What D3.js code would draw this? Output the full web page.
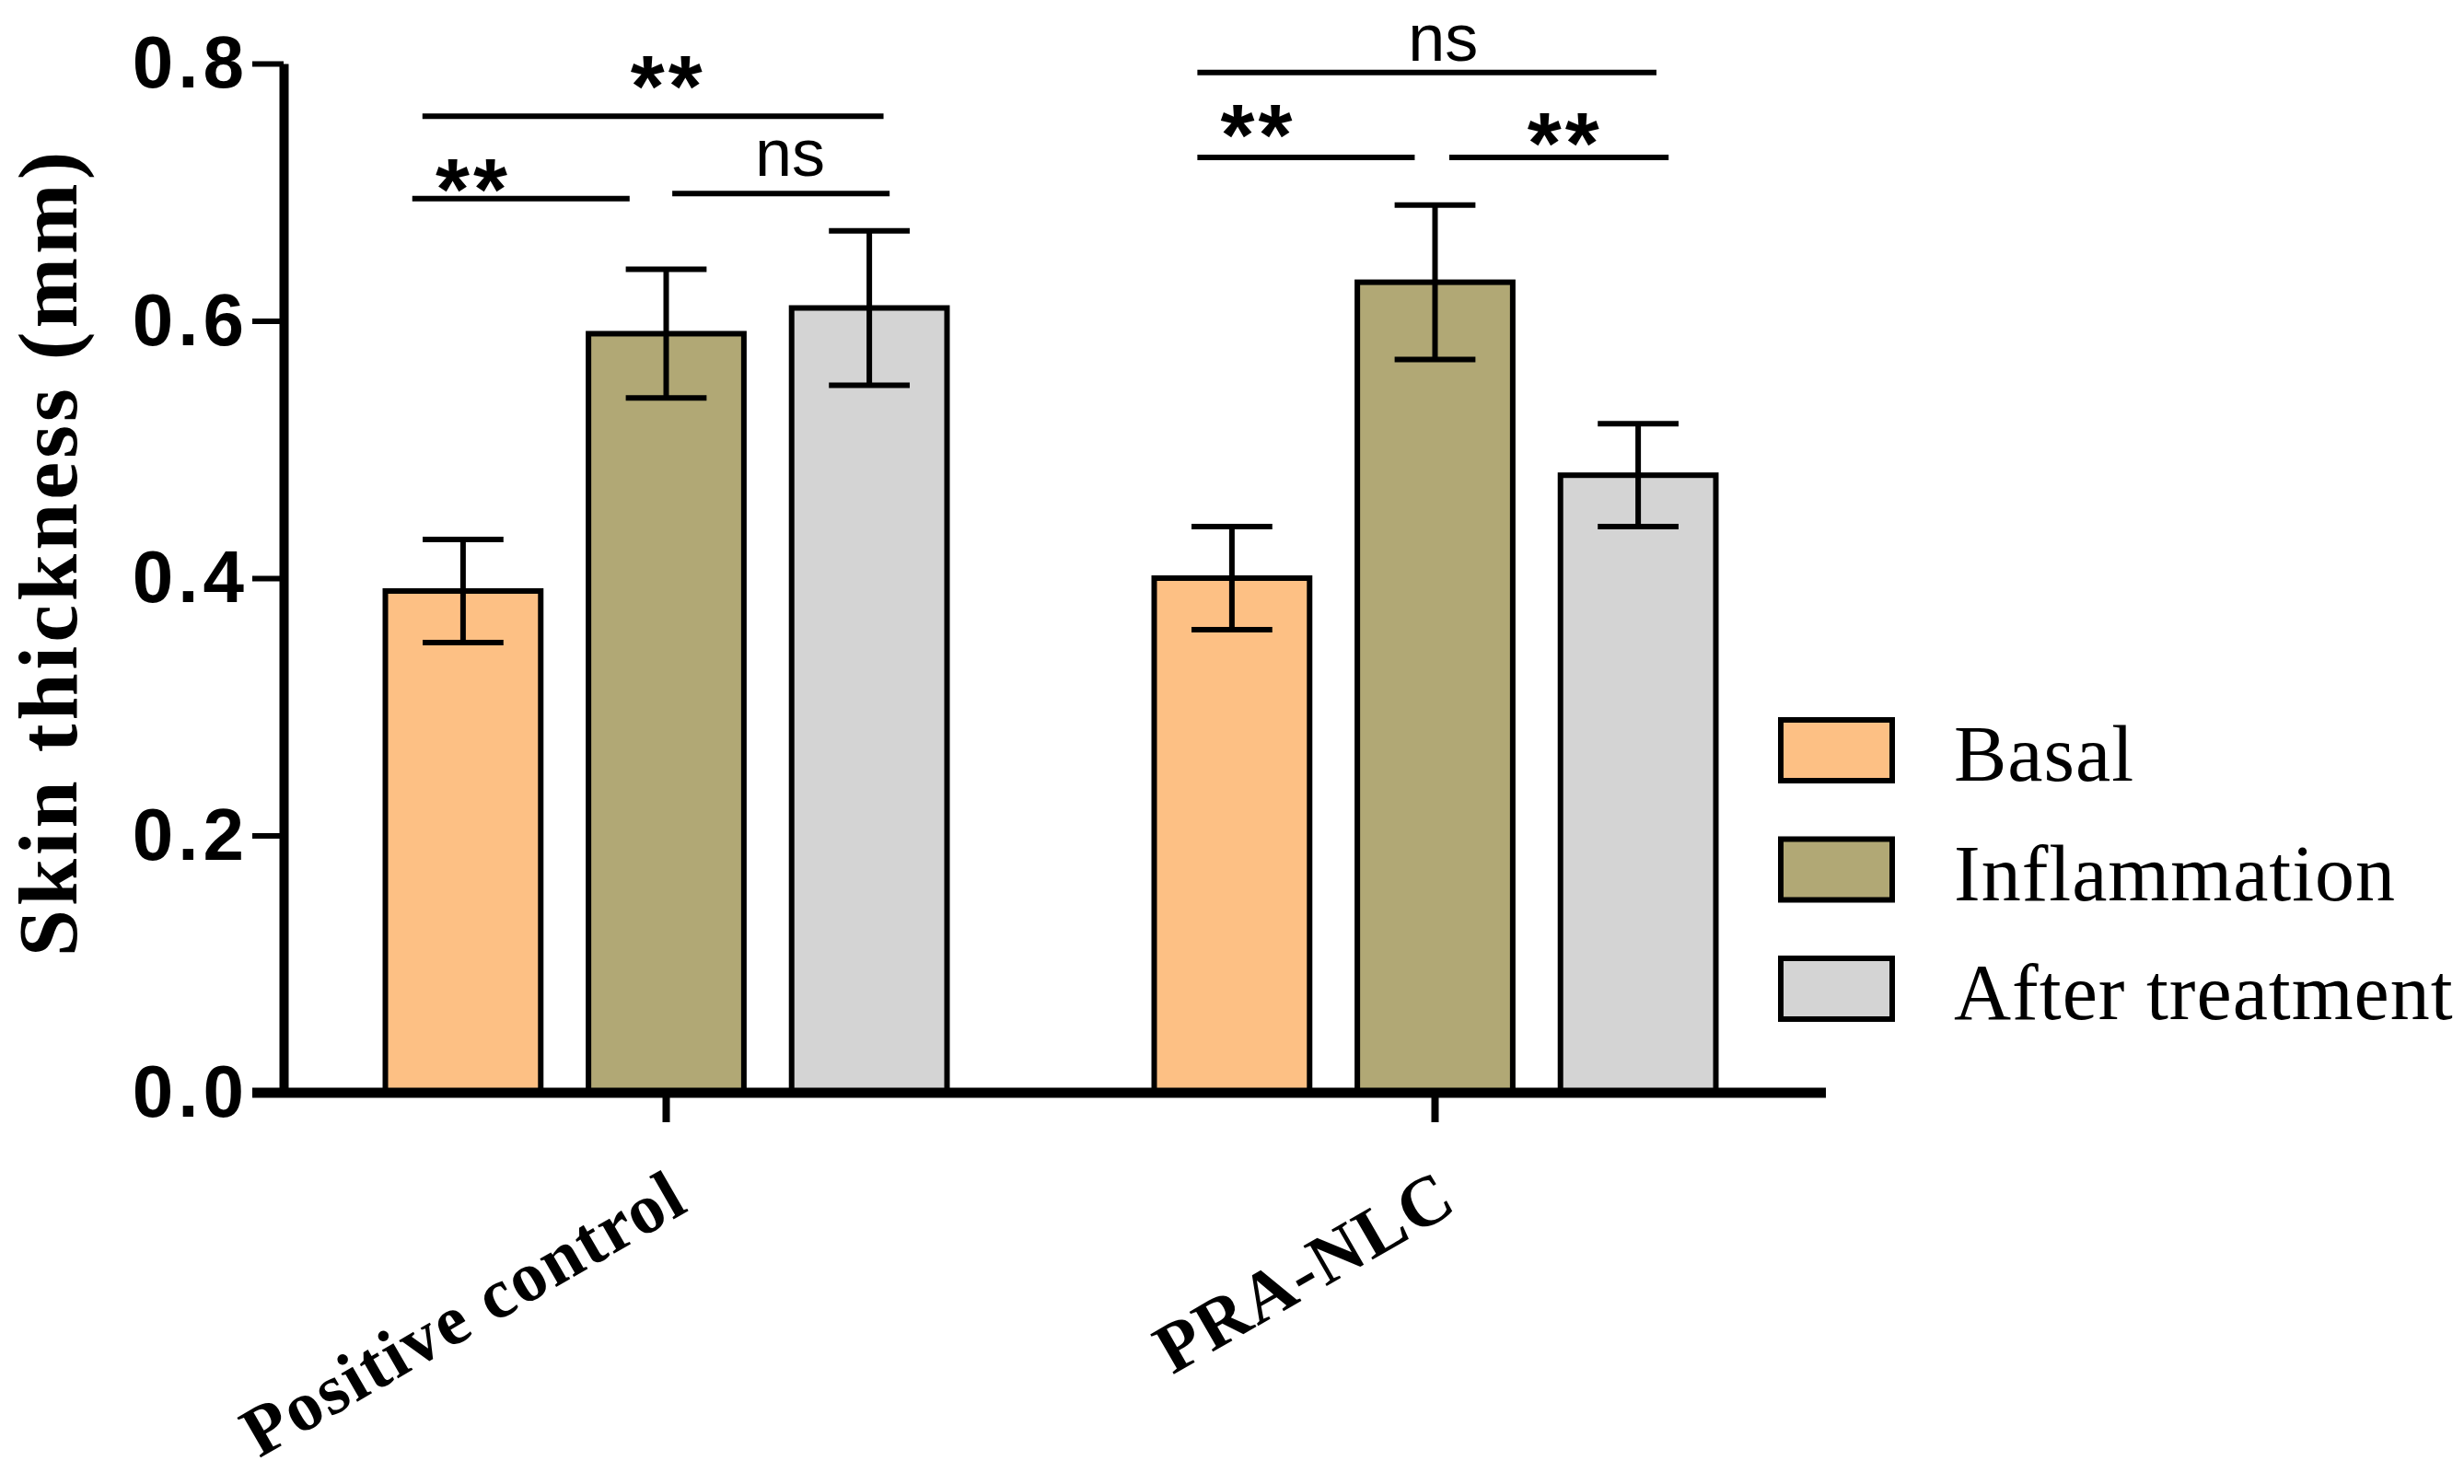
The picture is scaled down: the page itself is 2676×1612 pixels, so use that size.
<!DOCTYPE html>
<html>
<head>
<meta charset="utf-8">
<script src="https://cdn.jsdelivr.net/npm/d3@7"></script>
<style>
  body { margin: 0; background: #fff; }
  svg { display: block; background: #fff; }
</style>
</head>
<body>
<svg id="chart"></svg>
<script>
const groups = ["Positive control", "PRA-NLC"];
const series = ["Basal", "Inflammation", "After treatment"];
const means = [
  [0.39, 0.59, 0.61],
  [0.40, 0.63, 0.48],
];
const errors = [
  [0.04, 0.05, 0.06],
  [0.04, 0.06, 0.04],
];
const yTicks = [0, 0.2, 0.4, 0.6, 0.8];

// significance brackets, x in series units inside the group, y in mm
const brackets = [
  { group: 0, from: -0.2, to: 2.07, level: 0.759, label: "**", at: 1.01, labelLevel: 0.759 },
  { group: 0, from: -0.25, to: 0.82, level: 0.695, label: "**", at: 0.05, labelLevel: 0.679 },
  { group: 0, from: 1.03, to: 2.1, level: 0.699, label: "ns", at: 1.61, labelLevel: 0.713 },
  { group: 1, from: -0.17, to: 2.09, level: 0.793, label: "ns", at: 1.04, labelLevel: 0.802 },
  { group: 1, from: -0.17, to: 0.9, level: 0.727, label: "**", at: 0.13, labelLevel: 0.721 },
  { group: 1, from: 1.07, to: 2.15, level: 0.727, label: "**", at: 1.64, labelLevel: 0.715 },
];

const seriesColors = {
  Basal: "#fdc084",
  Inflammation: "#b1a875",
  "After treatment": "#d4d4d4",
};

const svgWidth = 2676;
const svgHeight = 1612;
const axisX = 308;
const axisY = 1187;
const plotTop = 69;
const plotRight = 1983;
const yTickLen = 34;

const svg = d3
  .select("#chart")
  .attr("width", svgWidth)
  .attr("height", svgHeight);

const x0 = d3
  .scaleBand()
  .domain(groups)
  .range([306, 1976])
  .paddingInner(0)
  .paddingOuter(0);

const x1 = d3
  .scaleBand()
  .domain(series)
  .range([0, x0.bandwidth()])
  .paddingInner(0.235)
  .paddingOuter(0.51);

const y = d3.scaleLinear().domain([0, 0.8]).range([axisY, plotTop]);

const rows = [];
groups.forEach((g, gi) => {
  series.forEach((s, si) => {
    rows.push({ group: g, gi, series: s, si, mean: means[gi][si], err: errors[gi][si] });
  });
});

const barCenter = (d) => x0(d.group) + x1(d.series) + x1.bandwidth() / 2;

// bars
svg
  .append("g")
  .selectAll("rect")
  .data(rows)
  .join("rect")
  .attr("x", (d) => x0(d.group) + x1(d.series))
  .attr("y", (d) => y(d.mean))
  .attr("width", x1.bandwidth())
  .attr("height", (d) => y(0) - y(d.mean))
  .attr("fill", (d) => seriesColors[d.series])
  .attr("stroke", "#000")
  .attr("stroke-width", 6);

// error bars
const capHalf = x1.bandwidth() * 0.26;
const eb = svg.append("g").attr("stroke", "#000").attr("stroke-width", 6);
eb.selectAll(".stem")
  .data(rows)
  .join("line")
  .attr("x1", barCenter)
  .attr("x2", barCenter)
  .attr("y1", (d) => y(d.mean + d.err))
  .attr("y2", (d) => y(d.mean - d.err));
eb.selectAll(".capTop")
  .data(rows)
  .join("line")
  .attr("x1", (d) => barCenter(d) - capHalf)
  .attr("x2", (d) => barCenter(d) + capHalf)
  .attr("y1", (d) => y(d.mean + d.err))
  .attr("y2", (d) => y(d.mean + d.err));
eb.selectAll(".capBot")
  .data(rows)
  .join("line")
  .attr("x1", (d) => barCenter(d) - capHalf)
  .attr("x2", (d) => barCenter(d) + capHalf)
  .attr("y1", (d) => y(d.mean - d.err))
  .attr("y2", (d) => y(d.mean - d.err));

// y axis
const yAxis = svg
  .append("g")
  .attr("transform", `translate(${axisX}, 0)`)
  .call(
    d3
      .axisLeft(y)
      .tickValues(yTicks)
      .tickFormat(d3.format(".1f"))
      .tickSize(yTickLen)
      .tickSizeOuter(0)
      .tickPadding(4)
  );
yAxis.select(".domain").attr("stroke-width", 10);
yAxis.selectAll(".tick line").attr("stroke-width", 6);
yAxis
  .selectAll(".tick text")
  .attr("font-family", "'Liberation Sans', Arial, sans-serif")
  .attr("font-weight", "bold")
  .attr("font-size", 80)
  .attr("letter-spacing", 5)
  .attr("fill", "#000");

// x axis
const xAxis = svg
  .append("g")
  .attr("transform", `translate(0, ${axisY})`)
  .call(d3.axisBottom(x0).tickSize(32).tickSizeOuter(0));
xAxis
  .select(".domain")
  .attr("d", `M${axisX - yTickLen},0H${plotRight}`)
  .attr("stroke-width", 11);
xAxis.selectAll(".tick line").attr("stroke-width", 8);
xAxis
  .selectAll(".tick text")
  .attr("font-family", "'Liberation Serif', 'Times New Roman', serif")
  .attr("font-weight", "bold")
  .attr("font-size", 77)
  .attr("letter-spacing", 2)
  .attr("fill", "#000")
  .attr("text-anchor", "end")
  .attr("dominant-baseline", "central")
  .attr("x", 14)
  .attr("y", 104)
  .attr("dy", null)
  .attr("transform", "rotate(-30, 14, 104)");

// y axis title
svg
  .append("text")
  .attr("transform", `translate(83, 600) rotate(-90)`)
  .attr("text-anchor", "middle")
  .attr("font-family", "'Liberation Serif', 'Times New Roman', serif")
  .attr("font-weight", "bold")
  .attr("font-size", 92)
  .attr("letter-spacing", 4)
  .text("Skin thickness (mm)");

// significance brackets
const bg = svg.append("g");
brackets.forEach((b) => {
  const g = groups[b.group];
  const pos = d3
    .scaleLinear()
    .domain([0, series.length - 1])
    .range([
      x0(g) + x1(series[0]) + x1.bandwidth() / 2,
      x0(g) + x1(series[series.length - 1]) + x1.bandwidth() / 2,
    ]);
  bg.append("line")
    .attr("x1", pos(b.from))
    .attr("x2", pos(b.to))
    .attr("y1", y(b.level))
    .attr("y2", y(b.level))
    .attr("stroke", "#000")
    .attr("stroke-width", 6);
  const star = b.label === "**";
  bg.append("text")
    .attr("x", pos(b.at))
    .attr("y", y(b.labelLevel))
    .attr("text-anchor", "middle")
    .attr("font-family", "'Liberation Sans', Arial, sans-serif")
    .attr("font-weight", star ? "bold" : "normal")
    .attr("font-size", star ? 95 : 72)
    .attr("letter-spacing", star ? 4 : 0)
    .text(b.label);
});

// legend
const legend = svg
  .append("g")
  .attr("transform", "translate(1934, 782)")
  .selectAll("g")
  .data(series)
  .join("g")
  .attr("transform", (d, i) => `translate(0, ${i * 129.5})`);
legend
  .append("rect")
  .attr("width", 121)
  .attr("height", 66)
  .attr("fill", (d) => seriesColors[d])
  .attr("stroke", "#000")
  .attr("stroke-width", 6);
legend
  .append("text")
  .attr("x", 188)
  .attr("y", 66)
  .attr("font-family", "'Liberation Serif', 'Times New Roman', serif")
  .attr("font-size", 86)
  .attr("letter-spacing", 1)
  .text((d) => d);
</script>
</body>
</html>
